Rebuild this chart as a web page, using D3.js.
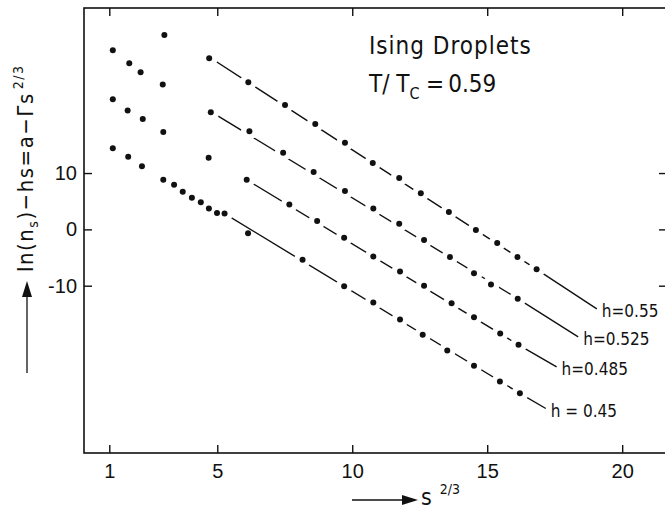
<!DOCTYPE html>
<html>
<head>
<meta charset="utf-8">
<script src="https://cdn.jsdelivr.net/npm/d3@7"></script>
<style>
  body { margin: 0; background: #fff; }
  svg { display: block; font-family: "DejaVu Sans Condensed", "Liberation Sans Narrow", "DejaVu Sans", sans-serif; }
</style>
</head>
<body>
<div id="chart"></div>
<script>
const xTicks = [1, 5, 10, 15, 20];
const yTicks = [-10, 0, 10];

const seriesNames = ["h=0.55", "h=0.525", "h=0.485", "h = 0.45"];

// s^(2/3) and ln(n_s) - h s
const s55 = [3.04, 4.70, 6.15, 7.51, 8.63, 9.73, 10.76, 11.74, 12.54, 13.58, 14.58, 15.37, 16.12, 16.83];
const v55 = [34.5, 30.4, 26.1, 22.1, 18.7, 15.4, 11.8, 9.1, 6.4, 3.1, -0.1, -2.4, -4.9, -7.1];

const s525 = [1.13, 1.74, 2.16, 2.98, 4.76, 6.19, 7.44, 8.57, 9.73, 10.78, 11.74, 12.66, 13.62, 14.51, 15.14, 16.13];
const v525 = [31.8, 29.5, 27.9, 25.7, 20.8, 17.4, 13.6, 10.2, 6.8, 3.7, 1.0, -1.9, -4.9, -7.8, -9.8, -12.3];

const s485 = [1.13, 1.68, 2.24, 3.00, 4.68, 6.09, 7.67, 8.70, 9.70, 10.78, 11.77, 12.66, 13.68, 14.51, 15.48, 16.16];
const v485 = [23.1, 21.1, 19.6, 17.3, 12.7, 8.8, 4.4, 1.5, -1.5, -4.8, -7.5, -10.0, -13.1, -15.6, -18.5, -20.5];

const s45 = [1.13, 1.70, 2.21, 3.00, 3.40, 3.72, 4.06, 4.39, 4.69, 4.99, 5.27, 6.14, 8.16, 9.70, 10.78, 11.77, 12.61, 13.52, 14.51, 15.47, 16.21];
const v45 = [14.4, 12.9, 11.2, 8.8, 7.9, 6.7, 5.6, 4.8, 3.7, 2.9, 2.8, -0.7, -5.4, -10.1, -13.0, -16.0, -18.7, -21.5, -24.2, -27.0, -29.1];

// fitted lines a - Γ s^(2/3), start / last point / end at label
const fitS55 = [4.70, 16.83, 19.06];
const fitV55 = [30.6, -7.1, -14.1];
const fitS525 = [4.76, 16.13, 18.37];
const fitV525 = [20.9, -12.3, -19.1];
const fitS485 = [6.09, 16.16, 17.57];
const fitV485 = [8.8, -20.5, -24.4];
const fitS45 = [5.27, 16.21, 17.17];
const fitV45 = [2.8, -29.1, -31.8];

const series = [
    { name: seriesNames[0], s: s55, v: v55, fitS: fitS55, fitV: fitV55 },
    { name: seriesNames[1], s: s525, v: v525, fitS: fitS525, fitV: fitV525 },
    { name: seriesNames[2], s: s485, v: v485, fitS: fitS485, fitV: fitV485 },
    { name: seriesNames[3], s: s45, v: v45, fitS: fitS45, fitV: fitV45 }
];

const width = 665;
const height = 510;
const frame = { left: 84, top: 8, right: 667, bottom: 453 };
const ink = "#111";

const x = d3.scaleLinear().domain([0.063, 21.66]).range([frame.left, frame.right]);
const y = d3.scaleLinear().domain([-39.7, 39.3]).range([frame.bottom, frame.top]);

const svg = d3.select("#chart")
    .append("svg")
    .attr("width", width)
    .attr("height", height);

svg.append("rect")
    .attr("x", frame.left)
    .attr("y", frame.top)
    .attr("width", frame.right - frame.left)
    .attr("height", frame.bottom - frame.top)
    .attr("fill", "none")
    .attr("stroke", ink)
    .attr("stroke-width", 1.6);

function styleAxis(g) {
    g.select(".domain").remove();
    g.selectAll(".tick line").attr("stroke", ink).attr("stroke-width", 1.4);
    g.selectAll(".tick text")
        .attr("fill", ink)
        .style("font-size", "20px")
        .style("font-family", "inherit");
}

svg.append("g")
    .attr("transform", `translate(0,${frame.bottom})`)
    .call(d3.axisBottom(x).tickValues(xTicks).tickSizeInner(-8).tickSizeOuter(0).tickPadding(11))
    .call(styleAxis);

svg.append("g")
    .attr("transform", `translate(0,${frame.top})`)
    .call(d3.axisTop(x).tickValues(xTicks).tickSizeInner(-8).tickSizeOuter(0).tickFormat(""))
    .call(styleAxis);

svg.append("g")
    .attr("transform", `translate(${frame.left},0)`)
    .call(d3.axisLeft(y).tickValues(yTicks).tickSizeInner(-8).tickSizeOuter(0).tickPadding(7).tickFormat(d => String(d)))
    .call(styleAxis);

svg.append("g")
    .attr("transform", `translate(${frame.right},0)`)
    .call(d3.axisRight(y).tickValues(yTicks).tickSizeInner(-8).tickSizeOuter(0).tickFormat(""))
    .call(styleAxis);

const fitLine = d3.line()
    .x(d => x(d[0]))
    .y(d => y(d[1]));

function distToPolyline(px, py, pts) {
    let best = Infinity;
    for (let i = 0; i < pts.length - 1; i++) {
        const ax = pts[i][0], ay = pts[i][1], bx = pts[i + 1][0], by = pts[i + 1][1];
        const dx = bx - ax, dy = by - ay;
        let t = ((px - ax) * dx + (py - ay) * dy) / (dx * dx + dy * dy);
        t = Math.max(0, Math.min(1, t));
        best = Math.min(best, Math.hypot(px - (ax + t * dx), py - (ay + t * dy)));
    }
    return best;
}

const plot = svg.append("g");

series.forEach(sr => {
    const fitPts = sr.fitS.map((s, i) => [s, sr.fitV[i]]);
    const fitPx = fitPts.map(d => [x(d[0]), y(d[1])]);
    const pts = sr.s.map((s, i) => ({ s: s, v: sr.v[i] }));

    plot.append("path")
        .attr("d", fitLine(fitPts))
        .attr("fill", "none")
        .attr("stroke", ink)
        .attr("stroke-width", 1.4);

    // gaps in the line around the points that sit on it
    plot.selectAll(null)
        .data(pts.filter(d => distToPolyline(x(d.s), y(d.v), fitPx) < 4))
        .enter()
        .append("circle")
        .attr("cx", d => x(d.s))
        .attr("cy", d => y(d.v))
        .attr("r", 8.5)
        .attr("fill", "#fff");

    const end = fitPx[fitPx.length - 1];
    plot.append("text")
        .attr("x", end[0] + 5)
        .attr("y", end[1] + 8)
        .attr("fill", ink)
        .style("font-size", "17px")
        .text(sr.name);

    sr.pts = pts;
});

series.forEach(sr => {
    plot.selectAll(null)
        .data(sr.pts)
        .enter()
        .append("circle")
        .attr("cx", d => x(d.s))
        .attr("cy", d => y(d.v))
        .attr("r", 3)
        .attr("fill", ink);
});

// title
const title = svg.append("g").attr("fill", ink);
title.append("text")
    .attr("x", 369)
    .attr("y", 54)
    .style("font-size", "24px")
    .style("letter-spacing", "1px")
    .text("Ising Droplets");

const tt = title.append("text")
    .attr("x", 369)
    .attr("y", 92)
    .style("font-size", "24px");
tt.append("tspan").text("T/ T");
tt.append("tspan").attr("dy", 7).style("font-size", "16px").text("C");
tt.append("tspan").attr("dy", -7).attr("dx", 2).text("\u2009=\u20090.59");

// y axis title
const yLab = svg.append("text")
    .attr("transform", "translate(33,272) rotate(-90)")
    .attr("fill", ink)
    .style("font-size", "22px")
    .style("letter-spacing", "1.5px");
yLab.append("tspan").text("ln(n");
yLab.append("tspan").attr("dy", 5).style("font-size", "14px").text("s");
yLab.append("tspan").attr("dy", -5).text(")−hs=a−Γs");
yLab.append("tspan").attr("dy", -10).attr("dx", 3).style("font-size", "14px").text("2/3");

svg.append("line")
    .attr("x1", 27).attr("y1", 373)
    .attr("x2", 27).attr("y2", 292)
    .attr("stroke", ink).attr("stroke-width", 1.3);
svg.append("path")
    .attr("d", "M27,281 L22,297 L32,297 Z")
    .attr("fill", ink);

// x axis title
svg.append("line")
    .attr("x1", 352).attr("y1", 500)
    .attr("x2", 405).attr("y2", 500)
    .attr("stroke", ink).attr("stroke-width", 1.3);
svg.append("path")
    .attr("d", "M418,500 L402,495 L402,505 Z")
    .attr("fill", ink);

const xLab = svg.append("text")
    .attr("x", 421)
    .attr("y", 505)
    .attr("fill", ink)
    .style("font-size", "23px");
xLab.append("tspan").text("s");
xLab.append("tspan").attr("dx", 8).attr("dy", -11).style("font-size", "14px").text("2/3");
</script>
</body>
</html>
